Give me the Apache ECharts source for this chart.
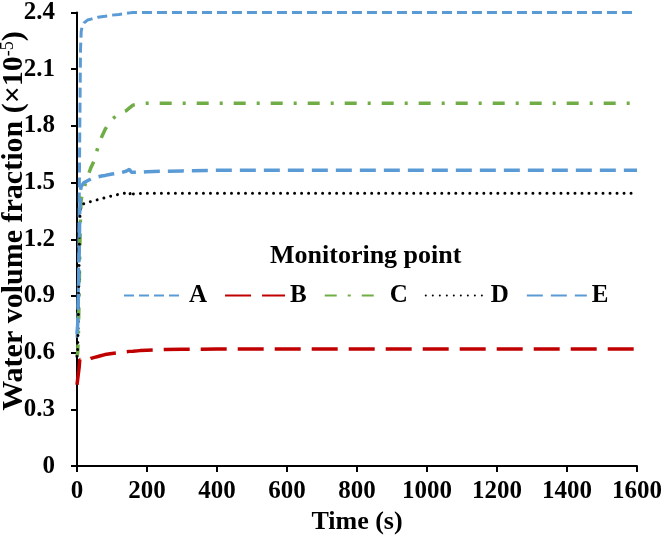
<!DOCTYPE html>
<html>
<head>
<meta charset="utf-8">
<script src="https://cdn.jsdelivr.net/npm/echarts@6/dist/echarts.min.js"></script>
<style>html,body{margin:0;padding:0;background:#fff}#c{width:666px;height:540px}</style>
</head>
<body>
<div id="c"></div>
<script>
var times = [0, 2, 4, 6, 8, 10, 12, 15, 20, 30, 40, 50, 60, 70, 80, 90, 100, 120, 140, 150, 155, 160, 180, 200, 250, 300, 400, 600, 800, 1000, 1200, 1400, 1600];
var seriesA = [0.68, 0.75, 0.95, 1.3, 1.8, 2.2, 2.3, 2.33, 2.345, 2.36, 2.365, 2.37, 2.375, 2.378, 2.38, 2.383, 2.386, 2.39, 2.395, 2.398, 2.4, 2.4, 2.4, 2.4, 2.4, 2.4, 2.4, 2.4, 2.4, 2.4, 2.4, 2.4, 2.4];
var seriesB = [0.43, 0.43, 0.44, 0.52, 0.565, 0.57, 0.565, 0.56, 0.555, 0.56, 0.57, 0.575, 0.58, 0.585, 0.59, 0.593, 0.596, 0.6, 0.605, 0.607, 0.6, 0.608, 0.611, 0.613, 0.617, 0.618, 0.619, 0.619, 0.619, 0.619, 0.619, 0.619, 0.619];
var seriesC = [0.58, 0.6, 0.7, 0.9, 1.15, 1.32, 1.41, 1.44, 1.47, 1.53, 1.58, 1.62, 1.69, 1.74, 1.78, 1.81, 1.835, 1.865, 1.88, 1.895, 1.9, 1.91, 1.917, 1.92, 1.92, 1.92, 1.92, 1.92, 1.92, 1.92, 1.92, 1.92, 1.92];
var seriesD = [0.58, 0.62, 0.8, 1.05, 1.3, 1.37, 1.38, 1.385, 1.39, 1.395, 1.4, 1.405, 1.41, 1.415, 1.42, 1.425, 1.43, 1.438, 1.445, 1.45, 1.425, 1.44, 1.442, 1.443, 1.443, 1.443, 1.443, 1.443, 1.443, 1.443, 1.443, 1.443, 1.443];
var seriesE = [0.7, 0.75, 0.9, 1.1, 1.35, 1.46, 1.48, 1.49, 1.5, 1.51, 1.52, 1.525, 1.53, 1.535, 1.538, 1.542, 1.545, 1.55, 1.56, 1.57, 1.555, 1.553, 1.555, 1.558, 1.56, 1.562, 1.565, 1.565, 1.565, 1.565, 1.565, 1.565, 1.565];
var seriesNames = ['A', 'B', 'C', 'D', 'E'];
var xTicks = [0, 200, 400, 600, 800, 1000, 1200, 1400, 1600];
var yTicks = ['0', '0.3', '0.6', '0.9', '1.2', '1.5', '1.8', '2.1', '2.4'];
var legendTitle = 'Monitoring point';
var xTitle = 'Time (s)';

function pairs(vals) { return times.map(function (t, i) { return [t, vals[i]]; }); }
var FONT = 'Liberation Serif';
var styles = {
  A: { color: '#5b9bd5', width: 3, type: [10, 5] },
  B: { color: '#c00000', width: 3.5, type: [26, 11] },
  C: { color: '#70ad47', width: 3.5, type: [12, 11, 3, 11] },
  D: { color: '#000000', width: 3, type: [0.01, 7], cap: 'round' },
  E: { color: '#5b9bd5', width: 3.5, type: [16, 8] }
};
var data = { A: seriesA, B: seriesB, C: seriesC, D: seriesD, E: seriesE };

var chart = echarts.init(document.getElementById('c'), null, { renderer: 'canvas' });
chart.setOption({
  animation: false,
  backgroundColor: '#ffffff',
  title: {
    text: legendTitle, left: 265, top: 238,
    textStyle: { fontFamily: FONT, fontWeight: 'bold', fontSize: 26, color: '#000' }
  },
  legend: {
    data: seriesNames, left: 118, top: 278, itemWidth: 60, itemHeight: 14, itemGap: 17,
    itemStyle: { color: 'rgba(0,0,0,0)', borderColor: 'rgba(0,0,0,0)', borderWidth: 0, opacity: 0 },
    textStyle: { fontFamily: FONT, fontWeight: 'bold', fontSize: 25, color: '#000' }
  },
  grid: { left: 77, top: 10, width: 560, height: 462, containLabel: false },
  xAxis: {
    type: 'value', min: xTicks[0], max: xTicks[xTicks.length - 1], interval: 200,
    name: xTitle, nameLocation: 'middle', nameGap: 37,
    nameTextStyle: { fontFamily: FONT, fontWeight: 'bold', fontSize: 26, color: '#000' },
    axisLine: { lineStyle: { color: '#000', width: 2 } },
    axisTick: { show: true, inside: false, length: 6, lineStyle: { color: '#000', width: 2 } },
    splitLine: { show: false },
    axisLabel: {
      margin: 13, fontFamily: FONT, fontWeight: 'bold', fontSize: 25, color: '#000',
      formatter: function (v) { return String(v); }
    }
  },
  yAxis: {
    type: 'value', min: 0, max: 2.4, interval: 0.3,
    axisLine: { show: true, lineStyle: { color: '#000', width: 2 } },
    axisTick: { show: true, inside: false, length: 6, lineStyle: { color: '#000', width: 2 } },
    splitLine: { show: false },
    axisLabel: {
      margin: 22, fontFamily: FONT, fontWeight: 'bold', fontSize: 25, color: '#000',
      formatter: function (v) { return yTicks[Math.round(v / 0.3)]; }
    }
  },
  graphic: [{
    type: 'text', x: 14, y: 221, rotation: Math.PI / 2,
    style: {
      text: '{b|Water volume fraction (×10}{s|-5}{b|)}',
      align: 'center', verticalAlign: 'middle',
      rich: {
        b: { fontFamily: FONT, fontWeight: 'bold', fontSize: 30, fill: '#000', color: '#000' },
        s: { fontFamily: FONT, fontSize: 18, fill: '#000', color: '#000', verticalAlign: 'top', padding: [0, 0, 10, 0] }
      }
    }
  }],
  series: seriesNames.map(function (n) {
    var s = styles[n];
    return {
      name: n, type: 'line', data: pairs(data[n]), symbol: 'none', smooth: false,
      lineStyle: { color: s.color, width: s.width, type: s.type, cap: s.cap || 'butt' },
      itemStyle: { color: s.color }
    };
  })
});
</script>
</body>
</html>
